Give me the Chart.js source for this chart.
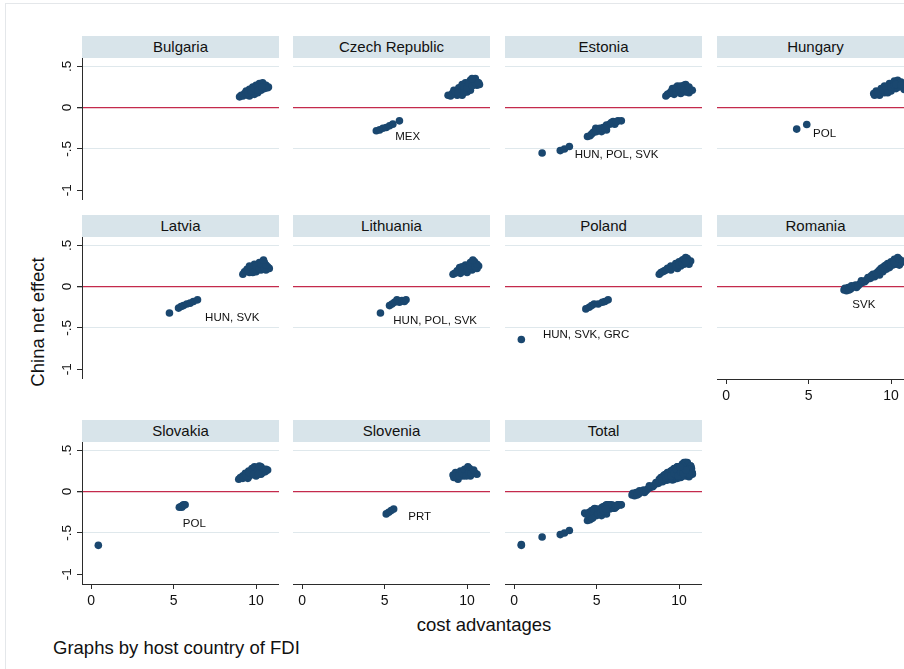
<!DOCTYPE html>
<html>
<head>
<meta charset="utf-8">
<script src="https://cdn.jsdelivr.net/npm/chart.js@4.4.1/dist/chart.umd.min.js"></script>
<style>
  html, body { margin: 0; padding: 0; background: #ffffff; }
  #stage { position: relative; width: 904px; height: 669px; overflow: hidden; background: #ffffff;
           font-family: "Liberation Sans", Arial, Helvetica, sans-serif; color: #111; }
  #frame { position: absolute; left: 5px; top: 3px; width: 1200px; height: 900px;
           border-top: 1px solid #e4e7ea; border-left: 1px solid #e4e7ea; }
  .strip { position: absolute; height: 22px; line-height: 21px; font-size: 15px; text-align: center;
           background: #d8e4ea; color: #111; white-space: nowrap; overflow: hidden; }
  canvas { position: absolute; }
  .title { position: absolute; font-size: 18.5px; line-height: 1; white-space: nowrap; color: #111; }
</style>
</head>
<body>
<div id="stage">
  <div id="frame"></div>
  <div class="title" id="ytitle" style="left:38px; top:322px; transform: translate(-50%,-50%) rotate(-90deg);">China net effect</div>
  <div class="title" style="left:484px; top:616px; transform: translateX(-50%);">cost advantages</div>
  <div class="title" style="left:53px; top:639px;">Graphs by host country of FDI</div>
</div>
<script>
// ---- axis ticks ----
const xTickValues = [0, 5, 10];
const yTickValues = [0.5, 0, -0.5, -1];
const yTickLabels = ['.5', '0', '-.5', '-1'];

// ---- host countries (panel order) ----
const panelNames = ['Bulgaria', 'Czech Republic', 'Estonia', 'Hungary',
                    'Latvia', 'Lithuania', 'Poland', 'Romania',
                    'Slovakia', 'Slovenia', 'Total'];

// ---- cost advantage vs. China net effect, one [x, y] pair per observation ----
const bulgaria = [
  [9.1,0.15],[9.3,0.17],[9.4,0.20],[9.6,0.14],[9.6,0.22],[9.8,0.18],[9.8,0.25],[9.9,0.16],
  [10.0,0.21],[10.0,0.27],[10.1,0.18],[10.2,0.24],[10.2,0.29],[10.3,0.21],[10.3,0.28],
  [10.4,0.26],[10.4,0.30],[10.5,0.23],[10.6,0.27],[10.7,0.24],[10.75,0.25],[9.5,0.15],
  [9.2,0.14],[9.5,0.18],[9.7,0.20],[9.9,0.23],[10.1,0.25],[10.15,0.21],[10.5,0.27],
  [10.6,0.24],[10.35,0.25],[9.0,0.13]
];
const czechRepublic = [
  [8.85,0.15],[9.1,0.17],[9.2,0.21],[9.4,0.15],[9.5,0.24],[9.6,0.19],[9.7,0.28],[9.7,0.15],
  [9.9,0.22],[9.9,0.30],[10.0,0.19],[10.1,0.26],[10.2,0.33],[10.2,0.21],[10.4,0.29],
  [10.4,0.33],[10.6,0.27],[10.6,0.31],[10.75,0.28],
  [9.0,0.14],[9.3,0.19],[9.45,0.18],[9.8,0.25],[9.8,0.18],[10.0,0.24],[10.1,0.30],
  [10.3,0.26],[10.5,0.30],[10.5,0.35],[10.3,0.35],[10.7,0.30],
  [4.5,-0.28],[4.7,-0.27],[4.9,-0.25],[5.1,-0.24],[5.3,-0.22],[5.5,-0.20],[5.9,-0.16]
];
const estonia = [
  [9.3,0.16],[9.5,0.19],[9.6,0.23],[9.7,0.16],[9.9,0.21],[9.9,0.26],[10.1,0.17],[10.2,0.24],
  [10.3,0.27],[10.4,0.19],[10.5,0.23],[10.7,0.21],[10.4,0.28],[10.6,0.18],
  [9.2,0.14],[9.4,0.17],[9.6,0.18],[9.8,0.19],[9.8,0.24],[10.0,0.22],[10.1,0.26],
  [10.3,0.21],[10.5,0.20],[10.6,0.25],[10.8,0.21],
  [1.7,-0.55],[2.8,-0.52],[3.05,-0.50],[3.35,-0.47],[4.45,-0.35],[4.6,-0.34],[4.8,-0.30],
  [4.95,-0.25],[5.1,-0.27],[5.3,-0.29],[5.4,-0.24],[5.6,-0.21],[5.6,-0.27],[5.8,-0.20],
  [6.0,-0.17],[6.1,-0.20],[6.3,-0.16],[6.5,-0.16],
  [4.7,-0.32],[5.0,-0.29],[5.2,-0.25],[5.5,-0.25],[5.9,-0.18],[6.2,-0.17]
];
const hungary = [
  [8.95,0.17],[9.1,0.20],[9.3,0.15],[9.4,0.23],[9.6,0.18],[9.6,0.26],[9.8,0.22],[9.9,0.29],
  [10.0,0.20],[10.1,0.26],[10.2,0.32],[10.3,0.23],[10.4,0.29],[10.5,0.25],[10.6,0.31],
  [10.7,0.26],[10.8,0.22],
  [9.0,0.15],[9.2,0.18],[9.5,0.21],[9.7,0.25],[9.8,0.18],[10.0,0.25],[10.2,0.27],
  [10.4,0.33],[10.5,0.29],[10.3,0.28],[10.6,0.27],
  [4.28,-0.26],[4.89,-0.205]
];
const latvia = [
  [9.3,0.18],[9.45,0.21],[9.6,0.17],[9.6,0.25],[9.8,0.21],[9.9,0.27],[10.0,0.18],[10.1,0.24],
  [10.2,0.29],[10.3,0.20],[10.4,0.25],[10.5,0.29],[10.6,0.20],[10.7,0.24],[10.8,0.22],
  [9.2,0.15],[9.5,0.19],[9.7,0.23],[9.8,0.17],[10.0,0.25],[10.2,0.22],[10.3,0.27],
  [10.5,0.22],[10.6,0.26],[10.45,0.32],
  [4.75,-0.32],[5.3,-0.26],[5.45,-0.24],[5.6,-0.23],[5.8,-0.21],[6.0,-0.20],[6.2,-0.18],[6.45,-0.16]
];
const lithuania = [
  [9.25,0.16],[9.4,0.19],[9.55,0.23],[9.6,0.16],[9.8,0.21],[9.9,0.26],[10.0,0.17],[10.1,0.23],
  [10.2,0.29],[10.3,0.20],[10.4,0.25],[10.45,0.30],[10.6,0.22],[10.7,0.25],
  [9.15,0.15],[9.4,0.17],[9.7,0.19],[9.7,0.24],[10.0,0.22],[10.2,0.25],[10.3,0.29],
  [10.5,0.24],[10.6,0.27],[10.35,0.32],
  [4.75,-0.32],[5.3,-0.23],[5.45,-0.21],[5.6,-0.19],[5.75,-0.16],[5.9,-0.19],[6.05,-0.17],
  [6.2,-0.18],[6.3,-0.16]
];
const poland = [
  [8.9,0.17],[9.1,0.19],[9.3,0.22],[9.5,0.20],[9.5,0.25],[9.7,0.24],[9.8,0.28],[9.9,0.22],
  [10.0,0.30],[10.1,0.25],[10.2,0.32],[10.3,0.27],[10.4,0.35],[10.5,0.30],[10.6,0.27],[10.7,0.31],
  [8.8,0.15],[9.0,0.18],[9.2,0.20],[9.4,0.21],[9.6,0.23],[9.8,0.24],[10.0,0.26],[10.2,0.28],
  [10.3,0.33],[10.5,0.34],[10.6,0.31],[10.4,0.30],
  [4.35,-0.27],[4.55,-0.25],[4.7,-0.23],[4.85,-0.21],[5.1,-0.21],[5.35,-0.19],[5.5,-0.18],[5.7,-0.16],
  [0.44,-0.64]
];
const romania = [
  [7.15,-0.04],[7.3,-0.05],[7.4,-0.01],[7.55,-0.03],[7.7,0.0],[7.85,0.02],[7.9,-0.01],
  [8.1,0.03],[8.25,0.05],[8.4,0.06],[8.75,0.10],[8.9,0.15],[9.0,0.12],[9.2,0.18],[9.3,0.14],
  [9.4,0.22],[9.5,0.18],[9.6,0.25],[9.7,0.21],[9.8,0.28],[9.9,0.23],[10.0,0.30],[10.1,0.26],
  [10.2,0.33],[10.3,0.27],[10.4,0.31],[10.5,0.26],[10.6,0.29],
  [7.2,-0.02],[7.45,-0.04],[7.6,0.01],[8.0,0.01],[8.2,0.07],[8.5,0.08],[8.6,0.11],[8.8,0.13],
  [9.1,0.16],[9.3,0.20],[9.5,0.23],[9.7,0.26],[9.9,0.27],[10.0,0.26],[10.2,0.29],[10.4,0.35],
  [10.5,0.33],[10.7,0.31]
];
const slovakia = [
  [9.05,0.17],[9.2,0.19],[9.35,0.22],[9.5,0.16],[9.55,0.25],[9.7,0.21],[9.75,0.28],[9.9,0.24],
  [10.0,0.29],[10.0,0.19],[10.2,0.25],[10.3,0.30],[10.3,0.21],[10.45,0.27],[10.55,0.24],[10.7,0.26],
  [8.95,0.15],[9.2,0.16],[9.4,0.19],[9.6,0.19],[9.6,0.23],[9.85,0.21],[9.9,0.30],[10.1,0.26],
  [10.2,0.31],[10.4,0.23],[10.6,0.27],[10.15,0.21],
  [5.35,-0.19],[5.45,-0.18],[5.5,-0.19],[5.55,-0.17],[5.6,-0.16],[5.7,-0.16],
  [0.44,-0.65]
];
const slovenia = [
  [9.15,0.20],[9.3,0.23],[9.4,0.17],[9.45,0.15],[9.55,0.21],[9.6,0.25],[9.75,0.19],[9.85,0.23],
  [10.0,0.21],[10.0,0.26],[10.15,0.28],[10.2,0.19],[10.35,0.24],[10.5,0.22],[10.6,0.21],
  [9.2,0.17],[9.35,0.19],[9.5,0.19],[9.7,0.22],[9.85,0.27],[9.95,0.19],[10.1,0.24],
  [10.25,0.22],[10.4,0.26],[10.05,0.30],
  [5.1,-0.27],[5.25,-0.25],[5.4,-0.23],[5.55,-0.21]
];
// pooled sample over all host countries
const total = [].concat(bulgaria, czechRepublic, estonia, hungary, latvia, lithuania,
                        poland, romania, slovakia, slovenia);

// ---- partner-country notes next to the negative clusters ----
const noteText = ['', 'MEX', 'HUN, POL, SVK', 'POL', 'HUN, SVK', 'HUN, POL, SVK',
                  'HUN, SVK, GRC', 'SVK', 'POL', 'PRT', ''];
const noteX = [0, 5.64, 3.67, 5.27, 6.91, 5.53, 1.75, 7.65, 5.56, 6.44, 0];
const noteY = [0, -0.355, -0.577, -0.315, -0.38, -0.42, -0.58, -0.22, -0.39, -0.30, 0];

const panelData = [bulgaria, czechRepublic, estonia, hungary, latvia, lithuania,
                   poland, romania, slovakia, slovenia, total];

// ---- layout / style ----
const FONT = '"Liberation Sans", Arial, Helvetica, sans-serif';
const MARKER = '#1a476f';
const AXIS = '#2b2b2b';
const TEXT = '#111111';
const GRID = '#dfe8ec';
const ZERO_LINE = '#c42a4c';
const colLeft = [82, 293, 505, 717];
const rowTop = [58, 237, 442];
const PLOT_W = 197, PLOT_H = 142, Y_AXIS_W = 40, X_AXIS_H = 35, STRIP_H = 22;
const X_MIN = -0.55, X_MAX = X_MIN + PLOT_W / 16.5;
const Y_MAX = 0.6, Y_MIN = Y_MAX - PLOT_H / 82.67;

const notePlugin = {
  id: 'notes',
  afterDatasetsDraw(chart, args, opts) {
    if (!opts.text) return;
    const { ctx, scales: { x, y } } = chart;
    ctx.save();
    ctx.font = '11.5px ' + FONT;
    ctx.fillStyle = TEXT;
    ctx.textAlign = 'left';
    ctx.textBaseline = 'middle';
    ctx.fillText(opts.text, x.getPixelForValue(opts.x), y.getPixelForValue(opts.y));
    ctx.restore();
  }
};

// fixed axis sizes, no extra label padding: every plot area is exactly PLOT_W x PLOT_H
function fixBox(s, size) {
  if (s.isHorizontal()) s.height = size; else s.width = size;
  s.paddingTop = 0; s.paddingBottom = 0; s.paddingLeft = 0; s.paddingRight = 0;
}

function xScale(show) {
  return {
    type: 'linear', min: X_MIN, max: X_MAX, display: show,
    afterBuildTicks: s => { s.ticks = xTickValues.map(v => ({ value: v })); },
    afterFit: s => fixBox(s, show ? X_AXIS_H : 0),
    border: { display: true, color: AXIS, width: 1 },
    grid: { drawOnChartArea: false, drawTicks: true, tickLength: 5, color: AXIS },
    ticks: { color: TEXT, font: { family: FONT, size: 14 }, padding: 4,
             maxRotation: 0, minRotation: 0, autoSkip: false }
  };
}

function yScale(first) {
  return {
    type: 'linear', min: Y_MIN, max: Y_MAX,
    afterBuildTicks: s => { s.ticks = yTickValues.map(v => ({ value: v })); },
    afterFit: s => fixBox(s, first ? Y_AXIS_W : 0),
    border: { display: first, color: AXIS, width: 1 },
    grid: {
      drawTicks: first, tickLength: 5, tickColor: AXIS,
      color: c => (c.tick && c.tick.value === 0) ? ZERO_LINE
                 : (c.tick && c.tick.value === -1) ? 'rgba(0,0,0,0)' : GRID,
      lineWidth: c => (c.tick && c.tick.value === 0) ? 1.3 : 1
    },
    ticks: {
      display: first, minRotation: 90, maxRotation: 90, crossAlign: 'center', padding: 2,
      color: TEXT, font: { family: FONT, size: 13.5 }, autoSkip: false,
      callback: v => yTickLabels[yTickValues.indexOf(v)]
    }
  };
}

const stage = document.getElementById('stage');

panelNames.forEach((name, i) => {
  const r = Math.floor(i / 4), c = i % 4;
  const hasX = r === 2 || (r === 1 && c === 3);
  const first = c === 0;
  const L = colLeft[c], T = rowTop[r];

  const strip = document.createElement('div');
  strip.className = 'strip';
  strip.style.left = L + 'px';
  strip.style.top = (T - STRIP_H) + 'px';
  strip.style.width = PLOT_W + 'px';
  strip.textContent = name;
  stage.appendChild(strip);

  const cv = document.createElement('canvas');
  const w = PLOT_W + (first ? Y_AXIS_W : 0);
  const h = PLOT_H + (hasX ? X_AXIS_H : 0);
  cv.width = w; cv.height = h;
  cv.style.width = w + 'px'; cv.style.height = h + 'px';
  cv.style.left = (L - (first ? Y_AXIS_W : 0)) + 'px';
  cv.style.top = T + 'px';
  stage.appendChild(cv);

  new Chart(cv, {
    type: 'scatter',
    data: {
      datasets: [{
        data: panelData[i].map(([x, y]) => ({ x, y })),
        pointRadius: 3.8, pointBorderWidth: 0,
        pointBackgroundColor: MARKER, pointBorderColor: MARKER,
        pointHoverRadius: 3.8
      }]
    },
    options: {
      responsive: false, animation: false, devicePixelRatio: 1,
      layout: { padding: 0, autoPadding: false },
      events: [],
      plugins: {
        legend: { display: false }, tooltip: { enabled: false },
        notes: { text: noteText[i], x: noteX[i], y: noteY[i] }
      },
      scales: { x: xScale(hasX), y: yScale(first) }
    },
    plugins: [notePlugin]
  });
});
</script>
</body>
</html>
